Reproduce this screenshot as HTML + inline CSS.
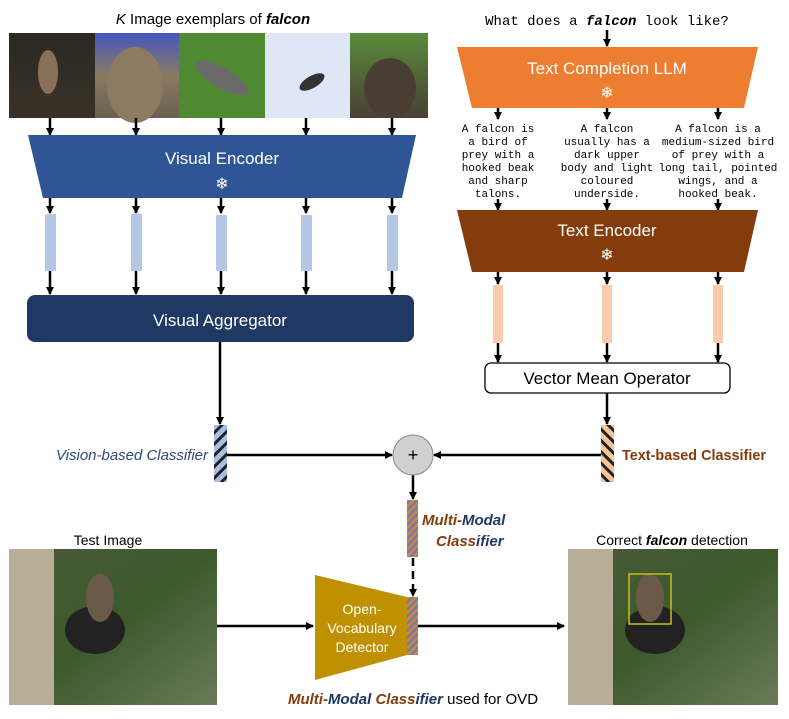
<!DOCTYPE html>
<html><head><meta charset="utf-8"><style>
html,body{margin:0;padding:0;background:#fff;}
svg{display:block;font-family:"Liberation Sans",sans-serif;}
.m{font-family:"Liberation Mono",monospace;font-size:11px;}
</style></head><body>
<svg width="789" height="719" viewBox="0 0 789 719" xmlns="http://www.w3.org/2000/svg">
<defs>
<marker id="a" markerWidth="8" markerHeight="8" refX="7" refY="4" orient="auto" markerUnits="userSpaceOnUse"><path d="M0,0 L8,4 L0,8 z" fill="#000"/></marker>
<pattern id="pb" width="8" height="8" patternUnits="userSpaceOnUse" patternTransform="rotate(45)"><rect width="8" height="8" fill="#a9c0e6"/><rect width="3" height="8" fill="#222"/></pattern>
<pattern id="pt" width="8" height="8" patternUnits="userSpaceOnUse" patternTransform="rotate(-45)"><rect width="8" height="8" fill="#f7c497"/><rect width="3" height="8" fill="#222"/></pattern>
<pattern id="pm" width="5" height="5" patternUnits="userSpaceOnUse" patternTransform="rotate(45)"><rect width="5" height="5" fill="#6a7fb0"/><rect width="2.5" height="5" fill="#d9813a"/></pattern>
<linearGradient id="g1" x1="0" y1="0" x2="0" y2="1"><stop offset="0" stop-color="#2a2a22"/><stop offset="1" stop-color="#3a3128"/></linearGradient>
<linearGradient id="g2" x1="0" y1="0" x2="0" y2="1"><stop offset="0" stop-color="#4456c0"/><stop offset="0.5" stop-color="#8a7a60"/><stop offset="1" stop-color="#6a6050"/></linearGradient>
<linearGradient id="g5" x1="0" y1="0" x2="0" y2="1"><stop offset="0" stop-color="#5a8a3a"/><stop offset="1" stop-color="#4a4036"/></linearGradient>
<linearGradient id="gp" x1="0" y1="0" x2="1" y2="1"><stop offset="0" stop-color="#4a5a3a"/><stop offset="0.5" stop-color="#3c5a2c"/><stop offset="1" stop-color="#6a7a5a"/></linearGradient>
</defs>

<text x="213" y="24" font-size="15" text-anchor="middle"><tspan font-style="italic">K</tspan> Image exemplars of <tspan font-style="italic" font-weight="bold">falcon</tspan></text>
<rect x="9" y="33" width="86" height="85" fill="url(#g1)"/>
<ellipse cx="48" cy="72" rx="10" ry="22" fill="#8a7058"/>
<rect x="95" y="33" width="84" height="85" fill="url(#g2)"/>
<ellipse cx="135" cy="85" rx="28" ry="38" fill="#8c7a62"/>
<rect x="179" y="33" width="86" height="85" fill="#4f8a32"/>
<ellipse cx="222" cy="78" rx="30" ry="10" fill="#6a6a6a" transform="rotate(30 222 78)"/>
<rect x="265" y="33" width="85" height="85" fill="#dfe6f6"/>
<ellipse cx="312" cy="82" rx="14" ry="6" fill="#333" transform="rotate(-30 312 82)"/>
<rect x="350" y="33" width="78" height="85" fill="url(#g5)"/>
<ellipse cx="390" cy="88" rx="26" ry="30" fill="#4a3e34"/>

<g stroke="#000" stroke-width="2.5" marker-end="url(#a)">
<line x1="50" y1="118" x2="50" y2="135"/><line x1="136" y1="118" x2="136" y2="135"/><line x1="221" y1="118" x2="221" y2="135"/><line x1="306" y1="118" x2="306" y2="135"/><line x1="392" y1="118" x2="392" y2="135"/>
<line x1="50" y1="198" x2="50" y2="213"/><line x1="136" y1="198" x2="136" y2="213"/><line x1="221" y1="198" x2="221" y2="213"/><line x1="306" y1="198" x2="306" y2="213"/><line x1="392" y1="198" x2="392" y2="213"/>
<line x1="50" y1="271" x2="50" y2="294"/><line x1="136" y1="271" x2="136" y2="294"/><line x1="221" y1="271" x2="221" y2="294"/><line x1="306" y1="271" x2="306" y2="294"/><line x1="392" y1="271" x2="392" y2="294"/>
<line x1="220" y1="342" x2="220" y2="424"/>
<line x1="607" y1="30" x2="607" y2="46"/>
<line x1="498" y1="108" x2="498" y2="119"/><line x1="607" y1="108" x2="607" y2="119"/><line x1="718" y1="108" x2="718" y2="119"/>
<line x1="498" y1="199" x2="498" y2="210"/><line x1="607" y1="199" x2="607" y2="210"/><line x1="718" y1="199" x2="718" y2="210"/>
<line x1="498" y1="272" x2="498" y2="284"/><line x1="607" y1="272" x2="607" y2="284"/><line x1="718" y1="272" x2="718" y2="284"/>
<line x1="498" y1="343" x2="498" y2="362"/><line x1="607" y1="343" x2="607" y2="362"/><line x1="718" y1="343" x2="718" y2="362"/>
<line x1="607" y1="393" x2="607" y2="424"/>
<line x1="227" y1="455" x2="392" y2="455"/>
<line x1="601" y1="455" x2="434" y2="455"/>
<line x1="413" y1="475" x2="413" y2="499"/>
<line x1="413" y1="558" x2="413" y2="596" stroke-dasharray="8,5"/>
<line x1="217" y1="626" x2="313" y2="626"/>
<line x1="418" y1="626" x2="564" y2="626"/>
</g>

<polygon points="28,135 416,135 402,198 43,198" fill="#2f5597"/>
<text x="222" y="164" font-size="17" fill="#fff" text-anchor="middle">Visual Encoder</text>
<text x="222" y="189" font-size="16" fill="#fff" text-anchor="middle">❄</text>
<g fill="#b4c7e7">
<rect x="45" y="214" width="11" height="57"/><rect x="131" y="214" width="11" height="57"/><rect x="216" y="215" width="11" height="56"/><rect x="301" y="215" width="11" height="56"/><rect x="387" y="215" width="11" height="56"/>
</g>
<rect x="27" y="295" width="387" height="47" rx="8" fill="#203864"/>
<text x="220" y="326" font-size="17" fill="#fff" text-anchor="middle">Visual Aggregator</text>

<rect x="214" y="425" width="13" height="57" fill="url(#pb)"/>
<text x="208" y="460" font-size="15" font-style="italic" fill="#2f4a7a" text-anchor="end" textLength="152" lengthAdjust="spacingAndGlyphs">Vision-based Classifier</text>
<circle cx="413" cy="455" r="20" fill="#d0d0d0" stroke="#888" stroke-width="1"/>
<text x="413" y="461" font-size="18" text-anchor="middle">+</text>

<text x="607" y="25" class="m" style="font-size:14px" text-anchor="middle">What does a <tspan font-weight="bold" font-style="italic">falcon</tspan> look like?</text>
<polygon points="457,47 758,47 744,108 472,108" fill="#ed7d31"/>
<text x="607" y="74" font-size="17" fill="#fff" text-anchor="middle">Text Completion LLM</text>
<text x="607" y="98" font-size="16" fill="#fff" text-anchor="middle">❄</text>
<g class="m" text-anchor="middle">
<text x="498" y="132">A falcon is</text><text x="498" y="145">a bird of</text><text x="498" y="158">prey with a</text><text x="498" y="171">hooked beak</text><text x="498" y="184">and sharp</text><text x="498" y="197">talons.</text>
<text x="607" y="132">A falcon</text><text x="607" y="145">usually has a</text><text x="607" y="158">dark upper</text><text x="607" y="171">body and light</text><text x="607" y="184">coloured</text><text x="607" y="197">underside.</text>
<text x="718" y="132">A falcon is a</text><text x="718" y="145">medium-sized bird</text><text x="718" y="158">of prey with a</text><text x="718" y="171">long tail, pointed</text><text x="718" y="184">wings, and a</text><text x="718" y="197">hooked beak.</text>
</g>
<polygon points="457,210 758,210 744,272 472,272" fill="#843c0c"/>
<text x="607" y="236" font-size="17" fill="#fff" text-anchor="middle">Text Encoder</text>
<text x="607" y="260" font-size="16" fill="#fff" text-anchor="middle">❄</text>
<g fill="#f8cbad">
<rect x="493" y="285" width="10" height="58"/><rect x="602" y="285" width="10" height="58"/><rect x="713" y="285" width="10" height="58"/>
</g>
<rect x="485" y="363" width="245" height="30" rx="6" fill="#fff" stroke="#000" stroke-width="1.3"/>
<text x="607" y="384" font-size="17" text-anchor="middle">Vector Mean Operator</text>
<rect x="601" y="425" width="13" height="57" fill="url(#pt)"/>
<text x="622" y="460" font-size="15" font-weight="bold" fill="#843c0c" textLength="144" lengthAdjust="spacingAndGlyphs">Text-based Classifier</text>

<rect x="407" y="500" width="11" height="57" fill="url(#pm)"/>
<text x="422" y="525" font-size="15" font-weight="bold" font-style="italic"><tspan fill="#843c0c">Multi-</tspan><tspan fill="#203864">Modal</tspan></text>
<text x="436" y="546" font-size="15" font-weight="bold" font-style="italic"><tspan fill="#843c0c">Class</tspan><tspan fill="#203864">ifier</tspan></text>

<text x="108" y="545" font-size="14" text-anchor="middle">Test Image</text>
<rect x="9" y="549" width="208" height="156" fill="url(#gp)"/>
<rect x="9" y="549" width="45" height="156" fill="#b8ae98"/>
<ellipse cx="95" cy="630" rx="30" ry="24" fill="#222"/>
<ellipse cx="100" cy="598" rx="14" ry="24" fill="#6a5a48"/>
<polygon points="315,575 407,597 407,655 315,680" fill="#bf9000"/>
<rect x="407" y="597" width="11" height="58" fill="url(#pm)"/>
<g font-size="14" fill="#fff" text-anchor="middle"><text x="362" y="614">Open-</text><text x="362" y="633">Vocabulary</text><text x="362" y="652">Detector</text></g>

<text x="672" y="545" font-size="14" text-anchor="middle">Correct <tspan font-weight="bold" font-style="italic">falcon</tspan> detection</text>
<rect x="568" y="549" width="210" height="156" fill="url(#gp)"/>
<rect x="568" y="549" width="45" height="156" fill="#b8ae98"/>
<ellipse cx="655" cy="630" rx="30" ry="24" fill="#222"/>
<ellipse cx="650" cy="598" rx="14" ry="24" fill="#6a5a48"/>
<rect x="629" y="574" width="42" height="50" fill="none" stroke="#c8c020" stroke-width="1.5"/>

<text x="413" y="704" font-size="15" text-anchor="middle"><tspan font-style="italic" font-weight="bold" fill="#843c0c">Multi-</tspan><tspan font-style="italic" font-weight="bold" fill="#203864">Modal </tspan><tspan font-style="italic" font-weight="bold" fill="#843c0c">Class</tspan><tspan font-style="italic" font-weight="bold" fill="#203864">ifier</tspan> used for OVD</text>
</svg>
</body></html>
